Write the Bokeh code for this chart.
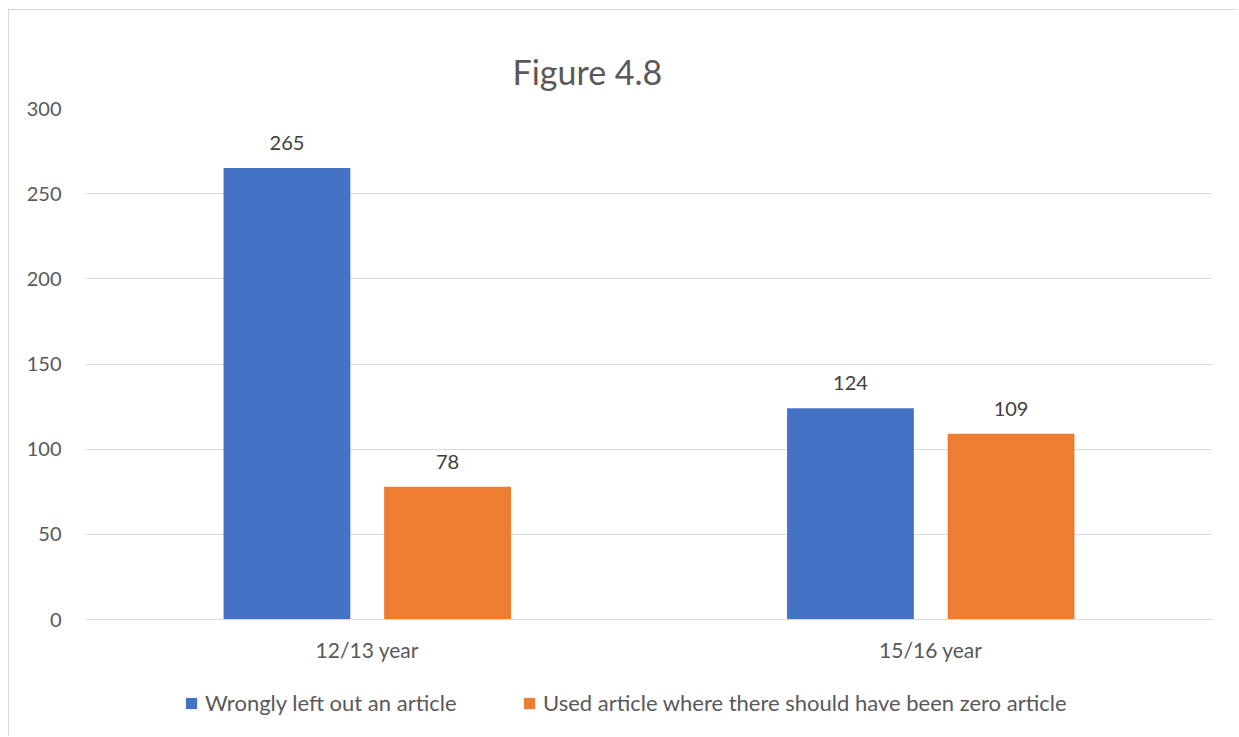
from bokeh.plotting import figure
from bokeh.layouts import column
from bokeh.models import (ColumnDataSource, Legend, LegendItem, Title, Range1d,
                          FixedTicker, FactorRange)
from bokeh.transform import dodge
from bokeh.embed import file_html
from bokeh.resources import INLINE

# Data
categories = ["12/13 year", "15/16 year"]
left_out = [265, 124]
used_zero = [78, 109]
y_ticks = [0, 50, 100, 150, 200, 250, 300]
series_names = ["Wrongly left out an article",
                "Used article where there should have been zero article"]

BLUE = "#4472C4"
ORANGE = "#ED7D31"
GRID = "#d9d9d9"
TEXT = "#595959"
FONT = "Lato"

src = ColumnDataSource(dict(
    cat=categories,
    left_out=left_out,
    used_zero=used_zero,
    left_out_lbl=[str(v) for v in left_out],
    used_zero_lbl=[str(v) for v in used_zero],
))

x_range = FactorRange(*categories)

p = figure(
    x_range=x_range,
    y_range=Range1d(0, 300),
    width=1230, height=670,
    output_backend="svg", toolbar_location=None,
    min_border_left=76, min_border_right=27,
    min_border_top=98, min_border_bottom=61,
)
p.outline_line_color = None
p.background_fill_color = "white"
p.border_fill_color = "white"

bar_w = 0.225
off = 0.1425
colors = (BLUE, ORANGE)
fields = ("left_out", "used_zero")
offsets = (-off, off)

for f, c, dx in zip(fields, colors, offsets):
    p.vbar(x=dodge("cat", dx, range=x_range), top=f, width=bar_w,
           source=src, fill_color=c, line_color=None)

# Value labels above bars
for f, dx in zip(fields, offsets):
    p.text(x=dodge("cat", dx, range=x_range), y=f, text=f + "_lbl", source=src,
           text_align="center", text_baseline="bottom", y_offset=-18,
           text_font_size="20px", text_color="#404040", text_font={"value": FONT})

# Axes
p.yaxis.ticker = FixedTicker(ticks=y_ticks)
p.yaxis.axis_line_color = None
p.yaxis.major_tick_line_color = None
p.yaxis.minor_tick_line_color = None
p.yaxis.major_label_standoff = 18
p.yaxis.major_label_text_font_size = "20px"
p.yaxis.major_label_text_color = TEXT
p.yaxis.major_label_text_font = FONT

p.xaxis.axis_line_color = GRID
p.xaxis.axis_line_width = 1
p.xaxis.major_tick_line_color = None
p.xaxis.minor_tick_line_color = None
p.xaxis.major_label_standoff = 11
p.xaxis.major_label_text_font_size = "21px"
p.xaxis.major_label_text_color = TEXT
p.xaxis.major_label_text_font = FONT

p.xgrid.grid_line_color = None
p.ygrid.grid_line_color = GRID
p.ygrid.grid_line_width = 1

# Title
title = Title(text="Figure 4.8", align="left", offset=427, standoff=33,
              text_font_size="34px", text_font=FONT, text_font_style="normal",
              text_color=TEXT)
p.add_layout(title, "above")

# Legend strip under the chart (its frame lines up with the chart frame)
lg = figure(width=1230, height=57, output_backend="svg", toolbar_location=None,
            x_range=x_range, y_range=Range1d(0, 300),
            min_border=0, min_border_left=76, min_border_right=27,
            min_border_top=0, min_border_bottom=0)
lg.axis.visible = False
lg.grid.visible = False
lg.outline_line_color = None
lg.border_fill_color = "white"

swatches = []
for f, c, dx in zip(fields, colors, offsets):
    r = lg.vbar(x=dodge("cat", dx, range=x_range), top=f, width=bar_w,
                source=src, fill_color=c, line_color=None)
    r.visible = False
    swatches.append(r)

for name, rend, loc in zip(series_names, swatches, [(99, 21), (437, 21)]):
    legend = Legend(items=[LegendItem(label=name, renderers=[rend])],
                    location=loc, orientation="horizontal",
                    padding=0, margin=0, spacing=0,
                    glyph_width=14, glyph_height=14, label_standoff=7,
                    label_text_font_size="22px", label_text_color=TEXT,
                    label_text_font=FONT,
                    border_line_color=None, background_fill_alpha=0)
    lg.add_layout(legend, "center")

page = column(p, lg, spacing=0)
page.margin = (10, 0, 0, 9)
page.styles = {"box-shadow": "-1px -1px 0 0 #d9d9d9"}

open("out.html", "w").write(file_html(page, INLINE))
